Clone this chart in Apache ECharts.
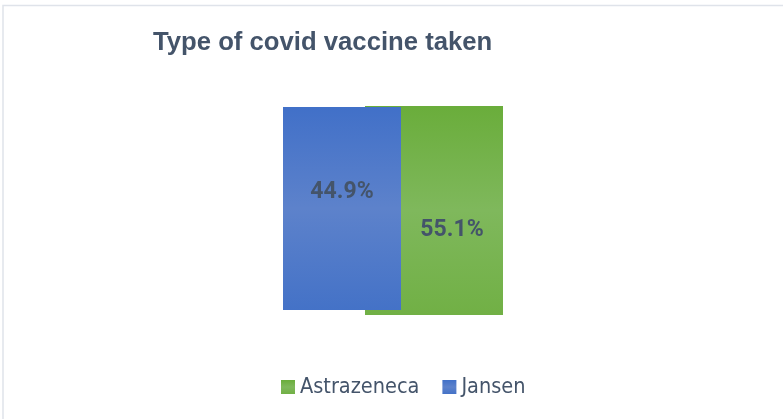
<!DOCTYPE html>
<html><head><meta charset="utf-8">
<script src="https://cdn.jsdelivr.net/npm/echarts@6/dist/echarts.min.js"></script>
<style>html,body{margin:0;padding:0;background:#fff}#c{width:783px;height:419px}</style>
</head><body><div id="c"></div>
<script>
const titleText = 'Type of covid vaccine taken';
const categories = ['Astrazeneca', 'Jansen'];
const values = [55.1, 44.9];

function grad(top, mid, bottom) {
  return new echarts.graphic.LinearGradient(0, 0, 0, 1, [
    {offset: 0, color: top}, {offset: 0.5, color: mid}, {offset: 1, color: bottom}
  ]);
}
const colors = [grad('#6aad3b', '#7fb85c', '#71b045'), grad('#4170c8', '#5d82cb', '#4472c7')];

const chart = echarts.init(document.getElementById('c'), null, {renderer: 'canvas'});
const grids = [
  {left: 365, top: 106, width: 138, height: 209},
  {left: 283, top: 107, width: 118, height: 203}
];
const labelOffsets = [[18, 20], [0, -16]];
chart.setOption({
  animation: false,
  title: {
    text: titleText, left: 148, top: 25,
    textStyle: {fontFamily: 'Liberation Sans, Arial, sans-serif', fontWeight: 'bold', fontSize: 25.7, color: '#44546a'}
  },
  graphic: [{
    type: 'rect', z: -1, silent: true,
    shape: {x: 3, y: 5.5, width: 820, height: 500},
    style: {fill: 'none', stroke: '#dfe3ea', lineWidth: 1.5}
  }],
  legend: {
    left: 276, top: 371, itemWidth: 14, itemHeight: 14, itemGap: 23, icon: 'rect',
    data: categories,
    textStyle: {fontFamily: '"DejaVu Sans Condensed", "Liberation Sans", sans-serif', fontSize: 21.5, color: '#44546a'}
  },
  grid: grids,
  xAxis: grids.map((g, i) => ({type: 'category', gridIndex: i, data: [''], show: false})),
  yAxis: grids.map((g, i) => ({type: 'value', gridIndex: i, min: 0, max: values[i], show: false})),
  series: categories.map((name, i) => ({
    type: 'bar', name: name, xAxisIndex: i, yAxisIndex: i, z: 2 + i,
    barWidth: '100%',
    itemStyle: {color: colors[i]},
    label: {
      show: true, position: 'inside', offset: labelOffsets[i],
      formatter: p => p.value.toFixed(1) + '%',
      fontFamily: 'Roboto, sans-serif', fontWeight: 'bold', fontSize: 23, color: '#44546a'
    },
    data: [values[i]]
  }))
});
</script></body></html>
